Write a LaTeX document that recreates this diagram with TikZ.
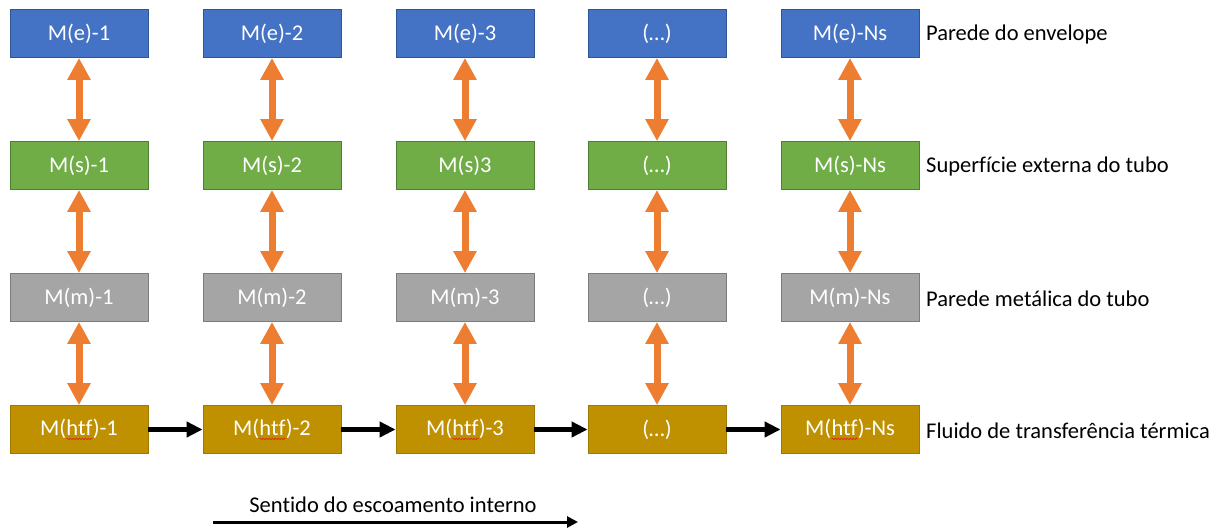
\documentclass[tikz,border=0pt]{standalone}
\usepackage{fontspec}
\setmainfont{Carlito}[Ligatures=NoCommon]
\usetikzlibrary{arrows.meta,decorations.pathmorphing}
\definecolor{envblue}{HTML}{4472C4}
\definecolor{envblueedge}{HTML}{2F5597}
\definecolor{surfgreen}{HTML}{70AD47}
\definecolor{surfgreenedge}{HTML}{507E32}
\definecolor{metalgray}{HTML}{A5A5A5}
\definecolor{metalgrayedge}{HTML}{7C7C7C}
\definecolor{fluidgold}{HTML}{BF9000}
\definecolor{fluidgoldedge}{HTML}{A07900}
\definecolor{heatorange}{HTML}{ED7D31}
\definecolor{spellred}{HTML}{E02020}
% word with a wavy red underline
\newcommand{\wavyword}[1]{\tikz[baseline=0pt,x=1pt,y=1pt]{%
  \node[inner sep=0pt,outer sep=0pt,anchor=base,minimum width=0pt,
    minimum height=0pt,draw=none,fill=none] (w) at (0,0) {#1};
  \draw[draw=spellred,line width=0.6pt,decorate,
    decoration={snake,amplitude=0.8pt,segment length=3pt}]
    ([yshift=-3.5pt]w.base west) -- ([yshift=-3.5pt]w.base east);}}
\begin{document}
\begin{tikzpicture}[x=1pt,y=-1pt,
  cell/.style={minimum width=138pt,minimum height=48pt,inner sep=0pt,
    text=white,font=\fontsize{22.5}{26}\selectfont,line width=0.8pt},
  envcell/.style={cell,fill=envblue,draw=envblueedge},
  surfcell/.style={cell,fill=surfgreen,draw=surfgreenedge},
  metalcell/.style={cell,fill=metalgray,draw=metalgrayedge},
  fluidcell/.style={cell,fill=fluidgold,draw=fluidgoldedge},
  rowlabel/.style={anchor=west,inner sep=0pt,font=\fontsize{22.5}{26}\selectfont},
  exchange/.style={draw=heatorange,line width=7pt,
    {Triangle[width=22pt,length=22pt]}-{Triangle[width=22pt,length=22pt]}},
  flow/.style={draw=black,line width=4.5pt,-{Triangle[width=15pt,length=16pt]}}]
\useasboundingbox (0,0) rectangle (1229,532);

% envelope wall
\node[envcell] (e1) at (79,33.5) {M(e)-1};
\node[envcell] (e2) at (272,33.5) {M(e)-2};
\node[envcell] (e3) at (465,33.5) {M(e)-3};
\node[envcell] (e4) at (657,33.5) {(…)};
\node[envcell] (e5) at (850,33.5) {M(e)-Ns};

% outer tube surface
\node[surfcell] (s1) at (79,165.5) {M(s)-1};
\node[surfcell] (s2) at (272,165.5) {M(s)-2};
\node[surfcell] (s3) at (465,165.5) {M(s)3};
\node[surfcell] (s4) at (657,165.5) {(…)};
\node[surfcell] (s5) at (850,165.5) {M(s)-Ns};

% metallic tube wall
\node[metalcell] (m1) at (79,297.5) {M(m)-1};
\node[metalcell] (m2) at (272,297.5) {M(m)-2};
\node[metalcell] (m3) at (465,297.5) {M(m)-3};
\node[metalcell] (m4) at (657,297.5) {(…)};
\node[metalcell] (m5) at (850,297.5) {M(m)-Ns};

% heat transfer fluid
\node[fluidcell] (f1) at (79,429.5) {M(\wavyword{htf})-1};
\node[fluidcell] (f2) at (272,429.5) {M(\wavyword{htf})-2};
\node[fluidcell] (f3) at (465,429.5) {M(\wavyword{htf})-3};
\node[fluidcell] (f4) at (657,429.5) {(…)};
\node[fluidcell] (f5) at (850,429.5) {M(\wavyword{htf})-Ns};

% row labels
\node[rowlabel] (le) at (926,35) {Parede do envelope};
\node[rowlabel] (ls) at (926,167) {Superfície externa do tubo};
\node[rowlabel] (lm) at (926,299) {Parede metálica do tubo};
\node[rowlabel] (lf) at (926,431) {Fluido de transferência térmica};

% heat exchange between layers
\foreach \c in {1,...,5}{
  \draw[exchange] (e\c.south) -- (s\c.north);
  \draw[exchange] (s\c.south) -- (m\c.north);
  \draw[exchange] (m\c.south) -- (f\c.north);
}

% fluid transport between segments
\draw[flow] (f1.east) -- (f2.west);
\draw[flow] (f2.east) -- (f3.west);
\draw[flow] (f3.east) -- (f4.west);
\draw[flow] (f4.east) -- (f5.west);

% internal flow direction
\coordinate (dirA) at (213,522);
\coordinate (dirB) at (578,522);
\draw[draw=black,line width=3pt,-{Triangle[width=11pt,length=11pt]}] (dirA) -- (dirB);
\node[inner sep=0pt,font=\fontsize{22.5}{26}\selectfont] (dirlabel) at (393,505) {Sentido do escoamento interno};
\end{tikzpicture}
\end{document}
